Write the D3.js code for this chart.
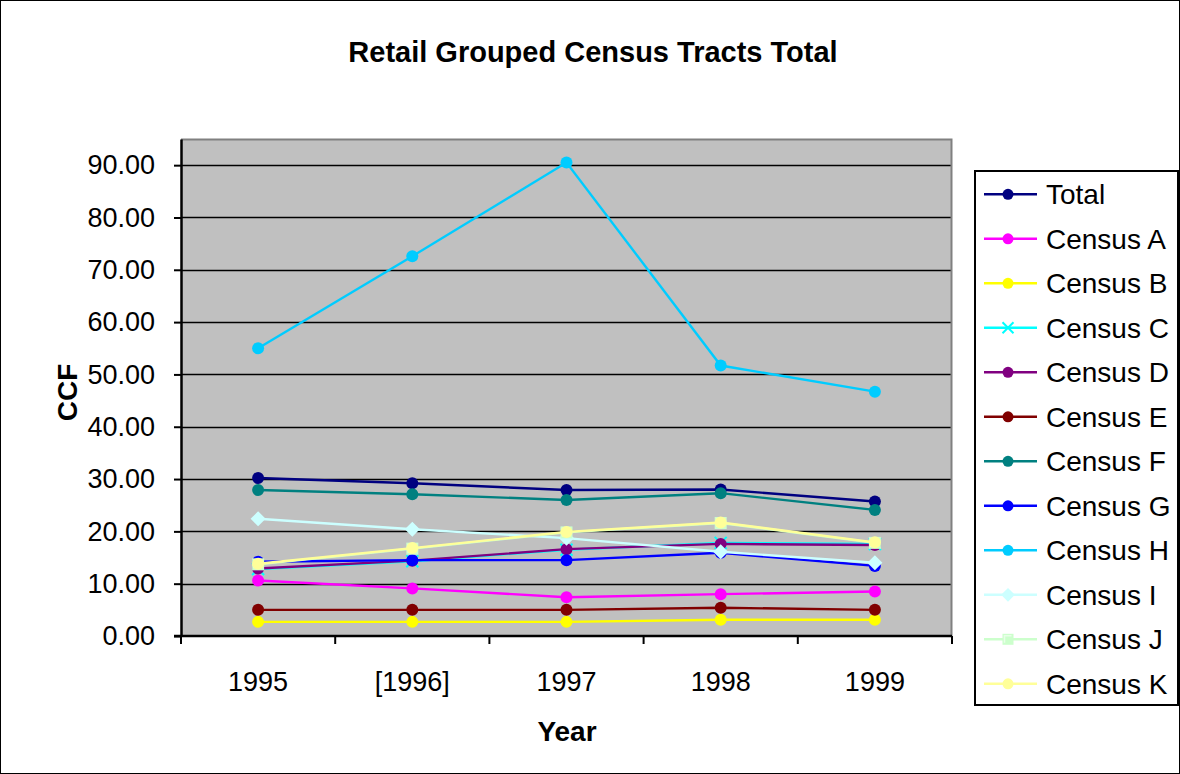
<!DOCTYPE html>
<html>
<head>
<meta charset="utf-8">
<script src="https://cdn.jsdelivr.net/npm/d3@7"></script>
<style>
  html, body { margin: 0; padding: 0; background: #fff; }
  svg { display: block; }
  text { font-family: Arial, "Liberation Sans", sans-serif; fill: #000; }
</style>
</head>
<body>
<svg id="chart" width="1180" height="774"></svg>
<script>
// Years on the category axis
const years = ["1995", "[1996]", "1997", "1998", "1999"];

// CCF per series, one value per year
const total   = [30.2, 29.2, 27.9, 28.0, 25.7];
const censusA = [10.6,  9.1,  7.4,  8.0,  8.5];
const censusB = [ 2.7,  2.7,  2.7,  3.1,  3.1];
const censusC = [12.8, 14.3, 16.5, 17.8, 17.6];
const censusD = [12.9, 14.4, 16.6, 17.6, 17.4];
const censusE = [ 5.0,  5.0,  5.0,  5.4,  5.0];
const censusF = [27.9, 27.1, 26.0, 27.3, 24.1];
const censusG = [14.2, 14.5, 14.5, 15.9, 13.4];
const censusH = [55.0, 72.6, 90.5, 51.7, 46.7];
const censusI = [22.4, 20.4, 18.7, 16.1, 14.0];
const censusJ = [13.7, 16.7, 19.8, 21.6, 17.8];
const censusK = [13.8, 16.8, 19.9, 21.7, 17.9];

const yTicks = [0, 10, 20, 30, 40, 50, 60, 70, 80, 90];

const series = [
  { name: "Total",    values: total,   color: "#000080", marker: "circle" },
  { name: "Census A", values: censusA, color: "#FF00FF", marker: "circle" },
  { name: "Census B", values: censusB, color: "#FFFF00", marker: "circle" },
  { name: "Census C", values: censusC, color: "#00FFFF", marker: "cross" },
  { name: "Census D", values: censusD, color: "#800080", marker: "circle" },
  { name: "Census E", values: censusE, color: "#800000", marker: "circle" },
  { name: "Census F", values: censusF, color: "#008080", marker: "circle" },
  { name: "Census G", values: censusG, color: "#0000FF", marker: "circle" },
  { name: "Census H", values: censusH, color: "#00CCFF", marker: "circle" },
  { name: "Census I", values: censusI, color: "#CCFFFF", marker: "diamond" },
  { name: "Census J", values: censusJ, color: "#CCFFCC", marker: "square" },
  { name: "Census K", values: censusK, color: "#FFFF99", marker: "circle" }
];

const svg = d3.select("#chart");
const W = 1180, H = 774;
const plot = { left: 181, right: 952, top: 139, bottom: 636 };

// outer frame
svg.append("rect")
  .attr("x", 0.5).attr("y", 0.5)
  .attr("width", W - 1).attr("height", H - 1)
  .attr("fill", "#fff").attr("stroke", "#000").attr("stroke-width", 1);

const x = d3.scaleBand().domain(years).range([plot.left, plot.right]).padding(0);
const y = d3.scaleLinear().domain([0, 95]).range([plot.bottom, plot.top]);
const cx = d => x(d) + x.bandwidth() / 2;

// plot background
svg.append("rect")
  .attr("x", plot.left).attr("y", plot.top)
  .attr("width", plot.right - plot.left).attr("height", plot.bottom - plot.top)
  .attr("fill", "#C0C0C0");

// gridlines
svg.append("g").selectAll("line")
  .data(yTicks.filter(t => t > 0))
  .join("line")
  .attr("x1", plot.left).attr("x2", plot.right)
  .attr("y1", d => Math.round(y(d)) + 0.5).attr("y2", d => Math.round(y(d)) + 0.5)
  .attr("stroke", "#000").attr("stroke-width", 1.3);

// gray border on the top and right of the plot
svg.append("path")
  .attr("d", `M${plot.left},${plot.top + 0.5}H${plot.right - 0.5}V${plot.bottom}`)
  .attr("fill", "none").attr("stroke", "#808080").attr("stroke-width", 2);

// y axis
const yAxis = svg.append("g")
  .attr("transform", `translate(${plot.left},0)`)
  .call(d3.axisLeft(y).tickValues(yTicks).tickFormat(d3.format(".2f"))
    .tickSizeInner(7).tickSizeOuter(0).tickPadding(19));
yAxis.select(".domain").attr("stroke", "#000").attr("stroke-width", 2.5);
yAxis.selectAll(".tick line").attr("stroke", "#000").attr("stroke-width", 2);
yAxis.selectAll(".tick text")
  .style("font-family", "Arial, 'Liberation Sans', sans-serif")
  .style("font-size", "27px").attr("fill", "#000");

// x axis: labels centred in each band, ticks on band boundaries
const xAxis = svg.append("g")
  .attr("transform", `translate(0,${plot.bottom})`)
  .call(d3.axisBottom(x).tickSize(0).tickPadding(36));
xAxis.select(".domain").remove();
xAxis.selectAll(".tick text")
  .style("font-family", "Arial, 'Liberation Sans', sans-serif")
  .style("font-size", "27px").attr("fill", "#000");

const bounds = years.map(d => x(d)).concat([x(years[years.length - 1]) + x.bandwidth()]);
svg.append("line")
  .attr("x1", plot.left - 7).attr("x2", plot.right)
  .attr("y1", plot.bottom).attr("y2", plot.bottom)
  .attr("stroke", "#000").attr("stroke-width", 2.5);
svg.append("g").selectAll("line")
  .data(bounds)
  .join("line")
  .attr("x1", d => d).attr("x2", d => d)
  .attr("y1", plot.bottom).attr("y2", plot.bottom + 8)
  .attr("stroke", "#000").attr("stroke-width", 2);

// titles
svg.append("text")
  .attr("x", 593).attr("y", 62)
  .attr("text-anchor", "middle")
  .style("font-size", "29px").style("font-weight", "bold")
  .text("Retail Grouped Census Tracts Total");

svg.append("text")
  .attr("x", 567).attr("y", 741)
  .attr("text-anchor", "middle")
  .style("font-size", "28px").style("font-weight", "bold")
  .text("Year");

svg.append("text")
  .attr("transform", `translate(77,${(plot.top + plot.bottom) / 2 + 5}) rotate(-90)`)
  .attr("text-anchor", "middle")
  .style("font-size", "28px").style("font-weight", "bold")
  .text("CCF");

// marker drawing
function drawMarker(g, type, color, size) {
  if (type === "circle") {
    g.append("circle").attr("r", size).attr("fill", color);
  } else if (type === "diamond") {
    const s = size * 1.25;
    g.append("path").attr("d", `M0,${-s}L${s},0L0,${s}L${-s},0Z`).attr("fill", color);
  } else if (type === "square") {
    const s = size;
    g.append("rect").attr("x", -s).attr("y", -s).attr("width", 2 * s).attr("height", 2 * s)
      .attr("fill", color);
    g.append("path").attr("d", `M${-s + 2},${s - 2}V${-s + 2}H${s - 2}`)
      .attr("fill", "none").attr("stroke", "#E8FFE8").attr("stroke-width", 1.5);
  } else if (type === "cross") {
    const s = size;
    g.append("path").attr("d", `M${-s},${-s}L${s},${s}M${-s},${s}L${s},${-s}`)
      .attr("stroke", color).attr("stroke-width", 2).attr("fill", "none");
  }
}

const line = d3.line().x((d, i) => cx(years[i])).y(d => y(d));

series.forEach(s => {
  const g = svg.append("g");
  g.append("path")
    .datum(s.values)
    .attr("d", line)
    .attr("fill", "none")
    .attr("stroke", s.color)
    .attr("stroke-width", 2.4);
  s.values.forEach((v, i) => {
    const m = g.append("g").attr("transform", `translate(${cx(years[i])},${y(v)})`);
    drawMarker(m, s.marker, s.color, 6);
  });
});

// legend
const legend = { x: 975, y: 171, w: 203, h: 534 };
svg.append("rect")
  .attr("x", legend.x).attr("y", legend.y)
  .attr("width", legend.w).attr("height", legend.h)
  .attr("fill", "#fff").attr("stroke", "#000").attr("stroke-width", 2);

const entryY = i => 194.3 + i * 44.5;
series.forEach((s, i) => {
  const g = svg.append("g").attr("transform", `translate(0,${entryY(i)})`);
  g.append("line")
    .attr("x1", 984).attr("x2", 1037)
    .attr("stroke", s.color).attr("stroke-width", 2.4);
  const m = g.append("g").attr("transform", "translate(1008,0)");
  drawMarker(m, s.marker, s.color, 5.5);
  g.append("text")
    .attr("x", 1046).attr("y", 0)
    .attr("dy", "0.36em")
    .style("font-size", "28px")
    .text(s.name);
});
</script>
</body>
</html>
